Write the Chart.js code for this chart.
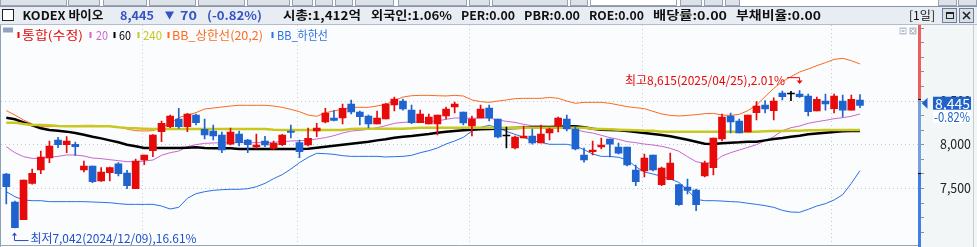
<!DOCTYPE html>
<html>
<head>
<meta charset="utf-8">
<script src="https://cdn.jsdelivr.net/npm/chart.js@4.4.1/dist/chart.umd.min.js"></script>
<style>
  html, body { margin: 0; padding: 0; background: #fff; overflow: hidden; }
  canvas { display: block; }
</style>
</head>
<body>
<canvas id="stockChart" width="977" height="247"></canvas>
<script>
// KODEX 바이오 - daily candles, MA 20/60/240, Bollinger(20,2)
const opens = [7660,7340,7138,7553,7706,7843,8049,7996,8000,7706, 7752,7580,7675,7778,7672,7492,7820,7927,8145,8202,
  8290,8202,8335,8171,8152,8106,8003,8118,8049,7969, 8038,7954,7996,8152,8019,7992,8152,8255,8301,8301,
  8461,8370,8324,8232,8290,8450,8495,8392,8248,8232, 8232,8324,8427,8370,8209,8301,8415,8290,8095,7958,
  8072,8095,8015,8129,8209,8290,8175,7878,7916,7969, 8061,7969,7969,7706,7695,7878,7538,7595,7538,7511,
  7477,7637,7733,8061,8324,8267,8141,8362,8450,8385, 8587,8576,8576,8553,8381,8495,8408,8495,8392,8507];
const highs = [7668,7350,7592,7717,7923,8038,8080,8087,8026,7809, 7752,7733,7740,7790,7702,7832,7878,8110,8267,8335,
  8412,8354,8347,8290,8221,8141,8187,8152,8057,8118, 8091,8038,8114,8221,8049,8187,8240,8412,8389,8461,
  8507,8381,8335,8381,8469,8541,8518,8450,8392,8347, 8335,8427,8484,8370,8324,8450,8450,8290,8198,8095,
  8209,8175,8221,8187,8312,8335,8209,7958,8038,8072, 8061,8015,7969,7763,7889,7878,7740,7900,7545,7603,
  7488,7809,8072,8347,8358,8290,8335,8488,8499,8533, 8610,8605,8615,8576,8541,8576,8576,8564,8564,8568];
const lows = [7317,7042,7138,7545,7664,7790,7961,7904,7874,7683, 7561,7575,7580,7637,7492,7492,7767,7859,8030,8190,
  8183,8145,8221,8061,8049,7904,7992,7981,7904,7954, 7973,7942,7984,8072,7847,7981,8087,8244,8267,8232,
  8347,8221,8187,8232,8290,8381,8392,8236,8248,8232, 8106,8290,8358,8221,8095,8301,8267,8072,7958,7946,
  8072,8003,8015,8049,8141,8152,7935,7797,7878,7946, 7855,7889,7752,7527,7626,7695,7527,7595,7300,7431,
  7241,7626,7649,8038,8129,8129,8141,8278,8358,8278, 8507,8499,8537,8324,8381,8392,8358,8312,8392,8419];
const closes = [7515,7045,7592,7668,7855,7981,7996,8038,7973,7752, 7572,7683,7733,7664,7527,7809,7878,8106,8240,8324,
  8202,8347,8248,8106,8095,7935,8141,8019,7996,7992, 7992,8011,8106,8137,7916,8068,8187,8358,8274,8412,
  8370,8316,8232,8301,8461,8518,8404,8248,8347,8312, 8335,8404,8461,8244,8290,8404,8301,8084,8095,8084,
  8095,8015,8118,8175,8301,8175,7946,7820,7935,7992, 8003,7900,7763,7572,7843,7706,7729,7786,7309,7473,
  7309,7786,8072,8312,8255,8129,8335,8438,8404,8495, 8545,8576,8545,8373,8514,8461,8553,8392,8515,8445];

const ma20 = [7973,7904,7859,7839,7839,7851,7862,7878,7878,7866, 7843,7836,7824,7813,7801,7801,7809,7820,7874,7904,
  7923,7973,7996,8011,8015,8019,8019,8019,8019,8019, 8019,8023,8030,8038,8042,8045,8061,8076,8099,8129,
  8152,8160,8171,8190,8213,8240,8251,8255,8255,8259, 8267,8286,8301,8301,8297,8301,8301,8278,8263,8251,
  8228,8213,8209,8202,8198,8194,8167,8145,8129,8103, 8076,8057,8030,8019,8003,7992,7977,7954,7920,7859,
  7801,7782,7790,7866,7904,7935,7965,7996,8042,8087, 8156,8190,8209,8240,8259,8274,8293,8305,8320,8347];
const ma60 = [8305,8286,8251,8217,8183,8164,8156,8145,8129,8110, 8087,8068,8045,8023,7996,7977,7958,7958,7958,7958,
  7958,7961,7965,7958,7954,7954,7954,7946,7946,7946, 7946,7946,7946,7946,7946,7950,7961,7973,7984,7996,
  8007,8019,8030,8045,8057,8076,8087,8095,8106,8118, 8133,8145,8152,8160,8167,8171,8175,8179,8183,8187,
  8190,8194,8198,8198,8202,8206,8206,8194,8179,8167, 8164,8160,8152,8141,8129,8118,8106,8091,8072,8053,
  8030,8007,8003,8011,8019,8023,8030,8030,8045,8061, 8072,8087,8099,8114,8125,8133,8141,8148,8152,8152];
const ma240 = [8248,8248,8232,8221,8221,8217,8209,8206,8206,8206, 8206,8206,8206,8194,8187,8183,8179,8175,8175,8175,
  8175,8175,8175,8175,8175,8175,8175,8175,8175,8175, 8175,8167,8164,8164,8164,8164,8164,8164,8164,8164,
  8175,8179,8179,8179,8179,8179,8179,8183,8190,8190, 8190,8190,8190,8190,8190,8190,8190,8190,8190,8190,
  8190,8190,8190,8190,8190,8190,8190,8190,8179,8175, 8171,8167,8164,8160,8156,8156,8145,8145,8145,8145,
  8145,8145,8145,8145,8145,8145,8145,8145,8148,8152, 8152,8156,8156,8160,8160,8164,8164,8164,8164,8164];
const bbUpper = [8385,8335,8278,8232,8202,8202,8206,8209,8213,8217, 8217,8213,8206,8198,8175,8156,8152,8156,8194,8240,
  8305,8335,8362,8404,8415,8427,8438,8446,8446,8446, 8446,8438,8423,8400,8373,8335,8320,8362,8381,8404,
  8423,8423,8423,8438,8457,8499,8541,8556,8560,8560, 8556,8553,8560,8553,8507,8488,8480,8495,8507,8522,
  8526,8526,8526,8537,8526,8495,8469,8480,8480,8480, 8469,8450,8431,8419,8408,8377,8347,8331,8324,8331,
  8339,8351,8354,8335,8331,8343,8385,8450,8545,8640, 8717,8774,8827,8862,8900,8934,8972,8984,8957,8919];
const bbLower = [7458,7401,7363,7355,7355,7344,7344,7344,7344,7344, 7340,7336,7332,7321,7313,7313,7313,7313,7294,7260,
  7279,7382,7435,7458,7473,7481,7485,7485,7492,7515, 7553,7607,7653,7717,7790,7851,7897,7893,7885,7870,
  7862,7862,7862,7862,7855,7859,7862,7874,7904,7927, 7958,8003,8038,8080,8152,8194,8217,8190,8148,8114,
  8080,8042,8023,8000,8000,8000,7981,7939,7889,7862, 7862,7851,7824,7744,7683,7660,7633,7603,7565,7477,
  7370,7355,7355,7351,7344,7340,7325,7313,7298,7279, 7244,7225,7222,7256,7294,7321,7363,7424,7553,7698];

const yTicks = [7500, 8000, 8500];
const monthStarts = [16, 34, 54, 74, 96]; // first session of Jan..May
const prevClose = 8515;
const axisMark = 7668;

const RED = "#e60a0a";
const BLUE = "#1f63cf";
const KR = "'Noto Sans CJK KR', 'Noto Sans', sans-serif";

const idx = opens.map((_, i) => i);
const candleColor = idx.map(i => closes[i] > opens[i] ? RED : closes[i] < opens[i] ? BLUE : "#000000");
const points = arr => arr.map((v, i) => ({ x: i, y: v }));

// draw text squeezed/stretched into [x0, x1]
function fitText(ctx, s, x0, x1, yc, font, color) {
  ctx.save();
  ctx.font = font;
  ctx.fillStyle = color;
  ctx.textBaseline = "middle";
  ctx.textAlign = "left";
  const w = ctx.measureText(s).width;
  ctx.translate(x0, yc);
  ctx.scale((x1 - x0) / w, 1);
  ctx.fillText(s, 0, 0);
  ctx.restore();
}

function seg(ctx, x0, y0, x1, y1) {
  ctx.beginPath();
  ctx.moveTo(x0, y0);
  ctx.lineTo(x1, y1);
  ctx.stroke();
}

const chrome = {
  id: "chrome",
  beforeDraw(chart) {
    const { ctx, chartArea: a, scales: { x, y } } = chart;
    ctx.save();
    ctx.fillStyle = "#ffffff";
    ctx.fillRect(0, 0, 977, 247);

    // toolbar strip
    const tabs = [[0,67],[68,100],[103,147],[149,196],[198,245],[247,290],[292,313],[315,333],[335,353],
      [355,394],[398,467],[469,490],[492,568],[570,588],[590,677],[680,702],[704,723],[725,740],[938,957],[958,977]];
    ctx.lineWidth = 1;
    tabs.forEach(([l, r]) => {
      ctx.fillStyle = l === 590 ? "#ffffff" : "#dde2e9";
      ctx.fillRect(l, 0, r - l, 5.5);
      ctx.strokeStyle = "#9aa3b2";
      ctx.strokeRect(l + 0.5, -1, r - l - 1, 6.5);
    });

    // title bar
    ctx.fillStyle = "#e8ecf3";
    ctx.fillRect(0, 7, 977, 18);
    ctx.strokeStyle = "#8a94a6";
    seg(ctx, 0, 6.5, 977, 6.5);
    ctx.strokeStyle = "#b4bcc8";
    seg(ctx, 0, 24.5, 977, 24.5);

    // plot + axis backgrounds
    ctx.fillStyle = "#fafcfd";
    ctx.fillRect(a.left, a.top, a.right - a.left, a.bottom - a.top);
    ctx.fillStyle = "#f3f6f7";
    ctx.fillRect(920, 25, 57, 222);

    // dotted grid
    ctx.strokeStyle = "#c2cad3";
    ctx.setLineDash([1, 3]);
    yTicks.forEach(v => {
      const py = Math.round(y.getPixelForValue(v)) + 0.5;
      seg(ctx, a.left, py, a.right, py);
    });
    monthStarts.forEach(i => {
      const px = Math.round(x.getPixelForValue(i - 0.3)) + 0.5;
      seg(ctx, px, a.top, px, a.bottom);
    });
    ctx.restore();
  },
  afterDraw(chart) {
    const { ctx, chartArea: a, scales: { x, y } } = chart;
    ctx.save();
    ctx.lineWidth = 1;

    // ---- title bar content
    ctx.fillStyle = "#ffffff";
    ctx.fillRect(2.5, 9.5, 11, 11);
    ctx.strokeStyle = "#222";
    ctx.strokeRect(2.5, 9.5, 11, 11);
    const hb = "bold 12px " + KR;
    fitText(ctx, "KODEX 바이오", 22.5, 103.5, 15.5, hb, "#111");
    fitText(ctx, "8,445", 120, 154, 15.5, hb, "#3453c4");
    ctx.fillStyle = "#3453c4";
    ctx.beginPath();
    ctx.moveTo(165, 11.5); ctx.lineTo(174, 11.5); ctx.lineTo(169.5, 19.5); ctx.closePath();
    ctx.fill();
    fitText(ctx, "70", 180, 197, 15.5, hb, "#3453c4");
    fitText(ctx, "(-0.82%)", 207, 262, 15.5, hb, "#3453c4");
    fitText(ctx, "시총:1,412억", 283, 361, 15.5, hb, "#111");
    fitText(ctx, "외국인:1.06%", 371, 452, 15.5, hb, "#111");
    fitText(ctx, "PER:0.00", 461, 515, 15.5, hb, "#111");
    fitText(ctx, "PBR:0.00", 524, 580, 15.5, hb, "#111");
    fitText(ctx, "ROE:0.00", 589, 644, 15.5, hb, "#111");
    fitText(ctx, "배당률:0.00", 653, 727, 15.5, hb, "#111");
    fitText(ctx, "부채비율:0.00", 736, 821, 15.5, hb, "#111");
    fitText(ctx, "[1일]", 909, 935, 15.5, "12px " + KR, "#111");
    [[942.5, 956.5], [959.5, 973.5]].forEach(([l, r]) => {
      ctx.fillStyle = "#d7dee8";
      ctx.fillRect(l, 8.5, r - l, 14);
      ctx.strokeStyle = "#6f7f99";
      ctx.strokeRect(l, 8.5, r - l, 14);
    });
    ctx.strokeStyle = "#222";
    ctx.strokeRect(946.5, 12.5, 7, 6);
    ctx.fillStyle = "#222";
    ctx.fillRect(946, 12, 8, 2);
    ctx.lineWidth = 1.6;
    seg(ctx, 963, 12, 970, 19);
    seg(ctx, 970, 12, 963, 19);
    ctx.lineWidth = 1;

    // ---- legend row
    ctx.fillStyle = "#8fa3c0";
    ctx.fillRect(3, 27.5, 10, 5);
    const lf = "12px " + KR;
    const legend = [
      ["통합(수정)", RED, 17.5, 22, 83],
      ["20", "#cc66cc", 89.5, 96, 108],
      ["60", "#000000", 113.5, 119, 131],
      ["240", "#c8c81e", 137.5, 143, 162],
      ["BB_상한선(20,2)", "#ff6a1e", 167.5, 172, 263],
      ["BB_하한선", "#2c6fe6", 271.5, 277, 328],
    ];
    legend.forEach(([t, c, bx, x0, x1]) => {
      ctx.fillStyle = c;
      ctx.fillRect(bx, 32, 2, 6);
      fitText(ctx, t, x0, x1, 35, lf, c);
    });

    // small panel icons
    [[899.5, 0], [909.5, 1]].forEach(([l, k]) => {
      ctx.fillStyle = "#b8c2d0";
      ctx.fillRect(l, 27.5, 7, 7);
      ctx.strokeStyle = "#ffffff";
      if (k === 0) ctx.strokeRect(l + 1.5, 29.5, 4, 3);
      else { seg(ctx, l + 1.5, 29, l + 5.5, 33); seg(ctx, l + 5.5, 29, l + 1.5, 33); }
    });

    // ---- borders
    ctx.strokeStyle = "#8e9fb8";
    seg(ctx, 0.5, 25, 0.5, 247);
    ctx.strokeStyle = "#9aa6b8";
    seg(ctx, 0, 245.5, 919, 245.5);
    ctx.strokeStyle = "#c8ccd4";
    seg(ctx, 973.5, 25, 973.5, 247);

    // ---- price axis line
    const yPrev = y.getPixelForValue(prevClose);
    const yMark = y.getPixelForValue(axisMark);
    ctx.fillStyle = "#f25c5c";
    ctx.fillRect(918, 25, 3, yPrev - 25);
    ctx.fillStyle = "#74a0e2";
    ctx.fillRect(918, yPrev, 3, yMark - yPrev);
    ctx.fillStyle = "#3f80e0";
    ctx.fillRect(918, yMark, 3, 247 - yMark);
    ctx.fillStyle = "#000";
    ctx.fillRect(918, Math.round(yPrev), 3, 1);
    ctx.fillRect(918, Math.round(yMark), 3, 1);
    ctx.strokeStyle = "#8090a8";
    for (let v = 7500 - 500; v <= 9365; v += 500 / 3) {
      const py = Math.round(y.getPixelForValue(v)) + 0.5;
      if (py > a.top && py < 247) seg(ctx, 921, py, 924, py);
    }

    // y labels
    const yf = "13px " + KR;
    yTicks.forEach(v => {
      const py = y.getPixelForValue(v);
      fitText(ctx, v.toLocaleString("en-US"), 940, 971, py, yf, "#222");
    });

    // current price tag
    const last = closes[closes.length - 1];
    const yc = y.getPixelForValue(last) - 2.2;
    ctx.fillStyle = "#2062c8";
    ctx.beginPath();
    ctx.moveTo(921.7, yc); ctx.lineTo(927.5, yc - 5.5); ctx.lineTo(927.5, yc + 5.5); ctx.closePath();
    ctx.fill();
    ctx.fillRect(933, yc - 6.5, 38, 13);
    fitText(ctx, last.toLocaleString("en-US"), 935, 970, yc + 0.5, yf, "#ffffff");
    ctx.fillStyle = "#ffffff";
    ctx.fillRect(933, yc + 7, 38, 13);
    const pct = ((last - prevClose) / prevClose * 100).toFixed(2) + "%";
    fitText(ctx, pct, 934, 970, yc + 13.5, yf, "#2062c8");

    // ---- high / low annotations
    const af = "12px " + KR;
    const hi = highs.indexOf(Math.max(...highs));
    const hx = x.getPixelForValue(hi);
    const hy = y.getPixelForValue(highs[hi]);
    const tip = hy - 6.5;
    ctx.strokeStyle = RED;
    ctx.fillStyle = RED;
    seg(ctx, hx - 12.5, tip - 6.4, hx, tip - 6.4);
    seg(ctx, hx, tip - 6.4, hx, tip - 2);
    ctx.beginPath();
    ctx.moveTo(hx - 3, tip - 3.5); ctx.lineTo(hx + 3, tip - 3.5); ctx.lineTo(hx, tip); ctx.closePath();
    ctx.fill();
    fitText(ctx, "최고8,615(2025/04/25),2.01%", hx - 174.5, hx - 14.5, hy - 10.6, af, RED);

    const lo = lows.indexOf(Math.min(...lows));
    const lx = Math.round(x.getPixelForValue(lo)) - 0.5;
    const ly = y.getPixelForValue(lows[lo]);
    ctx.strokeStyle = "#2050d0";
    ctx.fillStyle = "#2050d0";
    seg(ctx, lx, ly + 6, lx, ly + 12.5);
    seg(ctx, lx, ly + 12.5, lx + 14, ly + 12.5);
    ctx.beginPath();
    ctx.moveTo(lx - 2.5, ly + 7.5); ctx.lineTo(lx + 2.5, ly + 7.5); ctx.lineTo(lx, ly + 4.5); ctx.closePath();
    ctx.fill();
    fitText(ctx, "최저7,042(2024/12/09),16.61%", lx + 16, lx + 182, ly + 10.3, af, "#2050d0");

    ctx.restore();
  },
};

new Chart(document.getElementById("stockChart").getContext("2d"), {
  type: "bar",
  data: {
    datasets: [
      {
        label: "body",
        data: idx.map(i => ({ x: i, y: [opens[i], closes[i]] })),
        backgroundColor: candleColor,
        grouped: false,
        barPercentage: 1,
        categoryPercentage: 1,
        maxBarThickness: 7,
        minBarLength: 1,
        order: 0,
      },
      {
        label: "wick",
        data: idx.map(i => ({ x: i, y: [lows[i], highs[i]] })),
        backgroundColor: candleColor,
        grouped: false,
        barPercentage: 1,
        categoryPercentage: 1,
        maxBarThickness: 1,
        order: 1,
      },
      { type: "line", label: "240", data: points(ma240), borderColor: "#c8c81e", borderWidth: 2.5, order: 2 },
      { type: "line", label: "60", data: points(ma60), borderColor: "#000000", borderWidth: 2.5, order: 3 },
      { type: "line", label: "20", data: points(ma20), borderColor: "#cc66cc", borderWidth: 1, order: 4 },
      { type: "line", label: "BB_상한선(20,2)", data: points(bbUpper), borderColor: "#ff6a1e", borderWidth: 1, order: 5 },
      { type: "line", label: "BB_하한선", data: points(bbLower), borderColor: "#2c6fe6", borderWidth: 1, order: 6 },
    ],
  },
  options: {
    responsive: false,
    animation: false,
    events: [],
    layout: { padding: { left: 1, top: 25, right: 58.5, bottom: 2 } },
    elements: {
      point: { radius: 0 },
      line: { tension: 0, fill: false },
    },
    plugins: {
      legend: { display: false },
      tooltip: { enabled: false },
    },
    scales: {
      x: { type: "linear", min: -0.615, max: 105.79, offset: false, display: false },
      y: { type: "linear", min: 6848, max: 9365, display: false },
    },
  },
  plugins: [chrome],
});
</script>
</body>
</html>
